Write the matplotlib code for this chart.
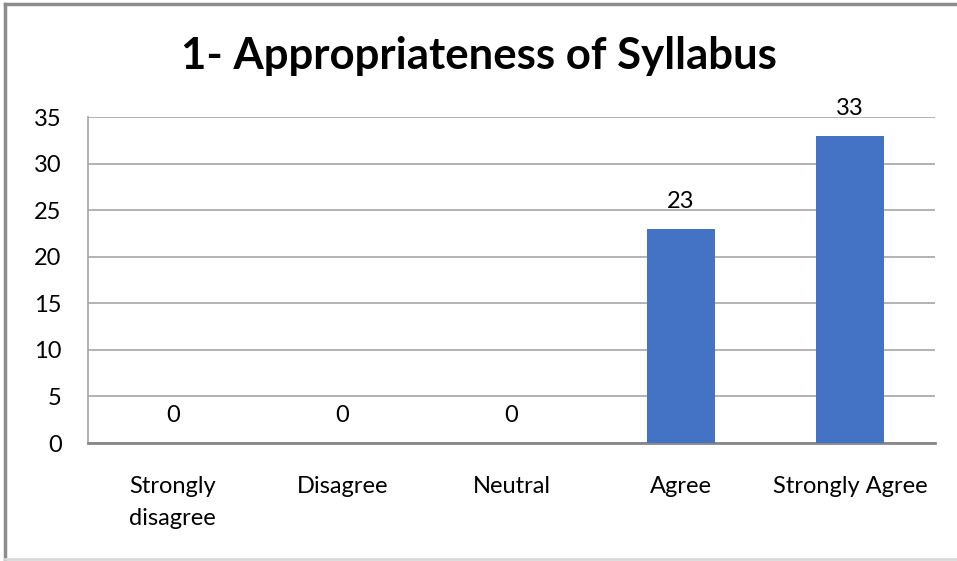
import matplotlib
matplotlib.use("Agg")
import matplotlib.pyplot as plt
from matplotlib.lines import Line2D

categories = ["Strongly\ndisagree", "Disagree", "Neutral", "Agree", "Strongly Agree"]
counts = [0, 0, 0, 23, 33]
y_ticks = [0, 5, 10, 15, 20, 25, 30, 35]
title = "1- Appropriateness of Syllabus"

plt.rcParams['font.family'] = ['Lato', 'DejaVu Sans']

fig = plt.figure(figsize=(9.57, 5.61), dpi=100)
ax = fig.add_axes([0.092, 0.2103, 0.885, 0.5811])

# outer chart frame: dark left/top, light bottom
W, H = 957.0, 561.0
fig.lines.append(Line2D([5 / W, 5 / W], [2 / H, 1 - 4 / H], transform=fig.transFigure,
                        color='#8c8c8c', linewidth=2.5))
fig.lines.append(Line2D([5 / W, 1.0], [1 - 4 / H, 1 - 4 / H], transform=fig.transFigure,
                        color='#8c8c8c', linewidth=2.5))
fig.lines.append(Line2D([5 / W, 1.0], [2 / H, 2 / H], transform=fig.transFigure,
                        color='#d9d9d9', linewidth=2))

x = range(len(categories))
ax.bar(x, counts, width=0.4, color='#4472C4', zorder=3)
for xi, v in zip(x, counts):
    ax.annotate(str(v), (xi, v), xytext=(0, 12), textcoords='offset points',
                ha='center', va='bottom', fontsize=17, color='black')

ax.set_xlim(-0.5, len(categories) - 0.5)
ax.set_ylim(0, 35)
ax.set_yticks(y_ticks)
ax.set_xticks(list(x))
ax.set_xticklabels(categories, fontsize=17, linespacing=1.65)
ax.tick_params(axis='y', length=0, pad=19, labelsize=17)
ax.tick_params(axis='x', length=0, pad=24)
ax.yaxis.grid(True, color='#a6a6a6', linewidth=1.2, zorder=0)
ax.set_axisbelow(True)

for s in ['top', 'right']:
    ax.spines[s].set_visible(False)
ax.spines['left'].set_color('#a6a6a6')
ax.spines['left'].set_linewidth(1.2)
ax.spines['bottom'].set_color('#868686')
ax.spines['bottom'].set_linewidth(2)

fig.text(0.5, 0.9, title, ha='center', va='center', fontsize=31.5, fontweight='bold')

fig.savefig("out.png", dpi=100)
